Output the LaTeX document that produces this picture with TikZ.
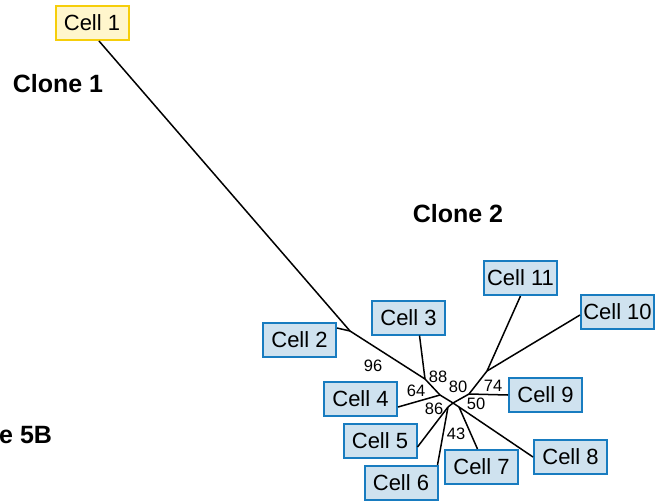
\documentclass[tikz,border=0pt]{standalone}
\usepackage{fontspec}
\setmainfont{Liberation Sans}
\usepackage{tikz}
\usepackage{xcolor}
\definecolor{cellfill}{RGB}{207, 226, 239}
\definecolor{celledge}{RGB}{24, 124, 192}
\definecolor{rootfill}{RGB}{255, 246, 204}
\definecolor{rootedge}{RGB}{246, 206, 10}
\tikzstyle{cell} = [
    rectangle,
    minimum width=73pt,
    minimum height=34pt,
    inner sep=0pt,
    text centered,
    draw=celledge,
    fill=cellfill,
    line width=2pt,
    font=\fontsize{22}{24}\selectfont
]
\tikzstyle{root} = [
    cell,
    draw=rootedge,
    fill=rootfill
]
\tikzstyle{support} = [
    inner sep=0pt,
    font=\fontsize{16.5}{18}\selectfont
]
\tikzstyle{clone} = [
    inner sep=0pt,
    font=\fontsize{25}{28}\selectfont\bfseries
]
\tikzstyle{branch} = [
    line width=1.5pt,
    draw=black
]

\begin{document}
\begin{tikzpicture}[x=1pt, y=-1pt]
    \useasboundingbox (0,0) rectangle (656,501);

    \node[root] (c1) at (92,23) {Cell 1};
    \node[cell] (c2) at (299.5,340) {Cell 2};
    \node[cell] (c3) at (408.5,317.5) {Cell 3};
    \node[cell] (c4) at (360.5,399) {Cell 4};
    \node[cell] (c5) at (380,441) {Cell 5};
    \node[cell] (c6) at (401,483) {Cell 6};
    \node[cell] (c7) at (481.5,467) {Cell 7};
    \node[cell] (c8) at (570.5,457) {Cell 8};
    \node[cell] (c9) at (545.5,395) {Cell 9};
    \node[cell] (c10) at (617.5,312) {Cell 10};
    \node[cell] (c11) at (520.5,278) {Cell 11};

    \coordinate (j2) at (350,331);
    \coordinate (j3) at (425,379);
    \coordinate (j4) at (440,395);
    \coordinate (j) at (453,403);
    \coordinate (j5) at (448,407);
    \coordinate (j7) at (459,407);
    \coordinate (j9) at (469,394);
    \coordinate (j10) at (487,371);

    \draw[branch] ([xshift=7pt]c1.south) -- (j2) -- (j3) -- (j4) -- (j);
    \draw[branch] ([yshift=12pt]c2.east) -- (j2);
    \draw[branch] ([xshift=11pt]c3.south) -- (j3);
    \draw[branch] ([yshift=-8pt]c4.east) -- (j4);
    \draw[branch] (j) -- (j5);
    \draw[branch] ([yshift=-6pt]c5.east) -- (j5);
    \draw[branch] ([xshift=-1pt]c6.north east) -- (j5);
    \draw[branch] (j) -- (j7) -- (c8.west);
    \draw[branch] ([xshift=-4pt]c7.north) -- (j7);
    \draw[branch] (j) -- (j9) -- (j10);
    \draw[branch] (j9) -- (c9.west);
    \draw[branch] (j10) -- ([yshift=-3pt]c10.west);
    \draw[branch] (j10) -- (c11.south);

    \node[support] (s96) at (373,366) {96};
    \node[support] (s88) at (438,377) {88};
    \node[support] (s80) at (458,387) {80};
    \node[support] (s74) at (493,386) {74};
    \node[support] (s64) at (416,391) {64};
    \node[support] (s86) at (434,409) {86};
    \node[support] (s50) at (476,404) {50};
    \node[support] (s43) at (456,434) {43};

    \node[clone] (clone1) at (58,84) {Clone 1};
    \node[clone] (clone2) at (458,214) {Clone 2};
    \node[clone, anchor=west] (fig) at (-1,435) {e 5B};
\end{tikzpicture}
\end{document}
